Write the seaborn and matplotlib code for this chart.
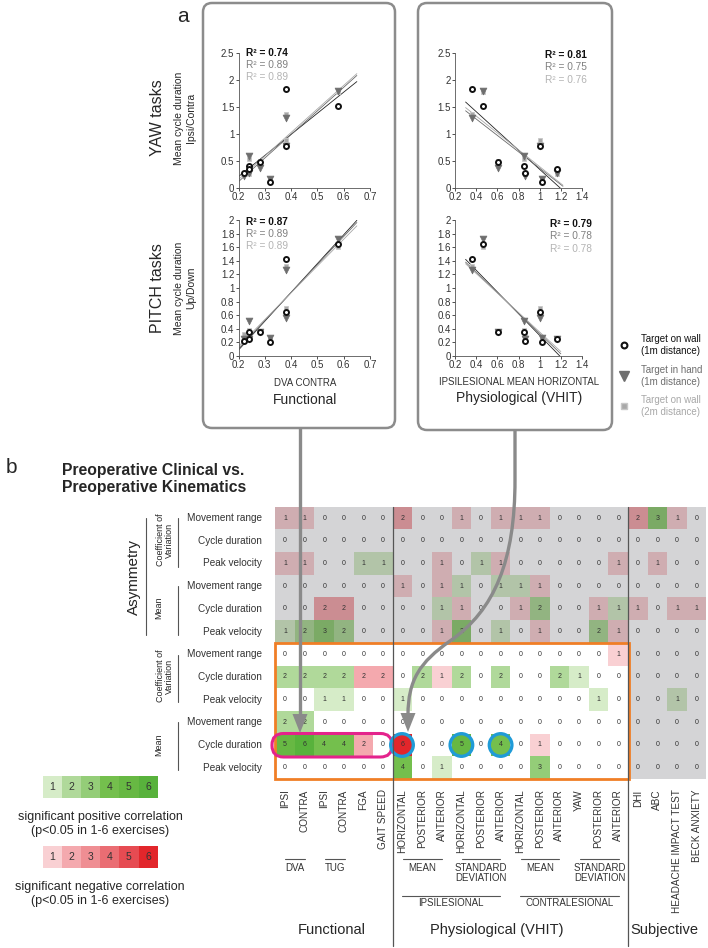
import numpy as np
import pandas as pd
import matplotlib
matplotlib.use("Agg")
import matplotlib.pyplot as plt
import seaborn as sns
from matplotlib.colors import ListedColormap, to_rgb
from matplotlib.patches import FancyBboxPatch, Rectangle, Circle, PathPatch, Polygon
from matplotlib.path import Path
from matplotlib.ticker import FuncFormatter

# ---------------- panel a: 8 patients ----------------
dva_contra = [0.38, 0.58, 0.28, 0.24, 0.22, 0.38, 0.32, 0.24]
ipsi_mean_horizontal = [0.36, 0.46, 0.61, 0.85, 0.86, 1.00, 1.02, 1.16]

yaw_wall_1m = [1.84, 1.52, 0.48, 0.42, 0.29, 0.78, 0.12, 0.35]
yaw_hand_1m = [1.30, 1.80, 0.38, 0.60, 0.22, 0.78, 0.17, 0.28]
yaw_wall_2m = [1.38, 1.78, 0.50, 0.55, 0.27, 0.90, 0.18, 0.27]

pitch_wall_1m = [1.42, 1.65, 0.36, 0.36, 0.22, 0.65, 0.20, 0.25]
pitch_hand_1m = [1.26, 1.72, 0.35, 0.51, 0.25, 0.56, 0.27, 0.25]
pitch_wall_2m = [1.33, 1.60, 0.37, 0.38, 0.32, 0.70, 0.27, 0.26]

r2_yaw_functional = ["0.74", "0.89", "0.89"]
r2_pitch_functional = ["0.87", "0.89", "0.89"]
r2_yaw_vhit = ["0.81", "0.75", "0.76"]
r2_pitch_vhit = ["0.79", "0.78", "0.78"]

conditions = ["Target on wall\n(1m distance)",
              "Target in hand\n(1m distance)",
              "Target on wall\n(2m distance)"]

# ---------------- panel b ----------------
kinematic_rows = ["Movement range", "Cycle duration", "Peak velocity"] * 4
clinical_cols = ["IPSI", "CONTRA", "IPSI", "CONTRA", "FGA", "GAIT SPEED",
                 "HORIZONTAL", "POSTERIOR", "ANTERIOR",
                 "HORIZONTAL", "POSTERIOR", "ANTERIOR",
                 "HORIZONTAL", "POSTERIOR", "ANTERIOR",
                 "YAW", "POSTERIOR", "ANTERIOR",
                 "DHI", "ABC", "HEADACHE IMPACT TEST", "BECK ANXIETY"]

# number of exercises with a significant correlation, sign = direction
corr_counts = np.array([
    [-1, -1, 0, 0, 0, 0, -2, 0, 0, -1, 0, -1, -1, -1, 0, 0, 0, 0, -2, 3, -1, 0],
    [0, 0, 0, 0, 0, 0, 0, 0, 0, 0, 0, 0, 0, 0, 0, 0, 0, 0, 0, 0, 0, 0],
    [-1, -1, 0, 0, 1, 1, 0, 0, -1, 0, 1, -1, 0, 0, 0, 0, 0, -1, 0, -1, 0, 0],
    [0, 0, 0, 0, 0, 0, -1, 0, -1, 1, 0, 1, 1, -1, 0, 0, 0, 0, 0, 0, 0, 0],
    [0, 0, -2, -2, 0, 0, 0, 0, 1, -1, 0, 0, -1, 2, 0, 0, -1, 1, -1, 0, -1, -1],
    [1, 2, 3, 2, 0, 0, 0, 0, -1, 3, 0, 1, 0, -1, 0, 0, 2, -1, 0, 0, 0, 0],
    [0, 0, 0, 0, 0, 0, 0, 0, 0, 0, 0, 0, 0, 0, 0, 0, 0, -1, 0, 0, 0, 0],
    [2, 2, 2, 2, -2, -2, 0, 2, -1, 2, 0, 2, 0, 0, 2, 1, 0, 0, 0, 0, 0, 0],
    [0, 0, 1, 1, 0, 0, 1, 0, 0, 0, 0, 0, 0, 0, 0, 0, 1, 0, 0, 0, 1, 0],
    [2, 2, 0, 0, 0, 0, 0, 0, 0, 0, 0, 0, 0, 0, 0, 0, 0, 0, 0, 0, 0, 0],
    [5, 6, 4, 4, -2, 0, -6, 0, 0, 5, 0, 4, 0, -1, 0, 0, 0, 0, 0, 0, 0, 0],
    [0, 0, 0, 0, 0, 0, 4, 0, 1, 0, 0, 0, 0, 3, 0, 0, 0, 0, 0, 0, 0, 0],
])
legend_levels = [1, 2, 3, 4, 5, 6]

# ---------------- style ----------------
sns.set_theme(style="white")
plt.rcParams["font.family"] = ["Liberation Sans", "DejaVu Sans"]

W, H = 708, 948
fig = plt.figure(figsize=(W / 100, H / 100), dpi=100)

pos_colors = ["#d6ecc8", "#b0d99a", "#94cd78", "#74bf4d", "#67b843", "#58b23c"]
neg_colors = ["#f9d0d3", "#f4a9ae", "#ef8e93", "#ea6d73", "#e64b52", "#e2262b"]
all_colors = neg_colors[::-1] + ["#ffffff"] + pos_colors
grey = np.array(to_rgb("#d4d4d6"))
cmap_white = ListedColormap(all_colors)
cmap_grey = ListedColormap([tuple(np.array(to_rgb(c)) * grey) for c in all_colors])


def px_axes(x0, y0, x1, y1, **kw):
    return fig.add_axes([x0 / W, 1 - y1 / H, (x1 - x0) / W, (y1 - y0) / H], **kw)


def scatter_panel(box, x, ys, xlim, xticks, ylim, yticks, fit_range):
    ax = px_axes(*box)
    styles = [
        dict(marker="o", s=13, color="white", edgecolor="#111111", linewidth=1.4),
        dict(marker="v", s=24, color="#6e6e6e", edgecolor="#6e6e6e", linewidth=0.5),
        dict(marker="s", s=12, color="#a8a8a8", edgecolor="#c8c8c8", linewidth=0.6),
    ]
    line_cols = ["#222222", "#6a6a6a", "#a8a8a8"]
    for i in [2, 1, 0]:
        sns.scatterplot(x=x, y=ys[i], ax=ax, zorder=3 + (2 - i), **styles[i])
    xx = np.linspace(fit_range[0], fit_range[1], 20)
    for i in range(3):
        k, b = np.polyfit(x, ys[i], 1)
        ax.plot(xx, k * xx + b, color=line_cols[i], lw=0.6, zorder=2)
    ax.set_xlim(*xlim)
    ax.set_ylim(*ylim)
    ax.set_xticks(xticks)
    ax.set_yticks(yticks)
    fmt = FuncFormatter(lambda v, p: f"{v:g}")
    ax.xaxis.set_major_formatter(fmt)
    ax.yaxis.set_major_formatter(fmt)
    for s in ["top", "right"]:
        ax.spines[s].set_visible(False)
    for s in ["left", "bottom"]:
        ax.spines[s].set_color("#555555")
        ax.spines[s].set_linewidth(0.6)
    ax.tick_params(labelsize=7, colors="#333333", length=2, width=0.6, pad=1,
                   bottom=True, left=True)
    ax.patch.set_alpha(0)
    return ax


fx = [0.2, 0.3, 0.4, 0.5, 0.6, 0.7]
vx = [0.2, 0.4, 0.6, 0.8, 1.0, 1.2, 1.4]
scatter_panel((238.5, 53.3, 370, 188.3), dva_contra,
              [yaw_wall_1m, yaw_hand_1m, yaw_wall_2m],
              (0.2, 0.7), fx, (0, 2.5), [0, 0.5, 1, 1.5, 2, 2.5], (0.2, 0.65))
scatter_panel((238.5, 220, 370, 356), dva_contra,
              [pitch_wall_1m, pitch_hand_1m, pitch_wall_2m],
              (0.2, 0.7), fx, (0, 2), np.arange(0, 2.01, 0.2), (0.2, 0.65))
scatter_panel((455, 53.3, 582, 188.3), ipsi_mean_horizontal,
              [yaw_wall_1m, yaw_hand_1m, yaw_wall_2m],
              (0.2, 1.4), vx, (0, 2.5), [0, 0.5, 1, 1.5, 2, 2.5], (0.3, 1.22))
scatter_panel((455, 220, 582, 356), ipsi_mean_horizontal,
              [pitch_wall_1m, pitch_hand_1m, pitch_wall_2m],
              (0.2, 1.4), vx, (0, 2), np.arange(0, 2.01, 0.2), (0.3, 1.2))

# ---------------- heatmap ----------------
ax_h = px_axes(275.2, 506.7, 706.4, 779)
n_rows, n_cols = corr_counts.shape
grey_mask = np.zeros_like(corr_counts, dtype=bool)
grey_mask[:6, :] = True
grey_mask[:, 18:] = True
annot = np.abs(corr_counts)
hm_kw = dict(vmin=-6.5, vmax=6.5, annot=annot, fmt="d", cbar=False, ax=ax_h,
             xticklabels=clinical_cols, yticklabels=kinematic_rows,
             annot_kws={"size": 5, "color": "#333333"})
sns.heatmap(corr_counts, mask=grey_mask, cmap=cmap_white, **hm_kw)
sns.heatmap(corr_counts, mask=~grey_mask, cmap=cmap_grey, **hm_kw)
ax_h.tick_params(axis="y", length=0, pad=9.5, labelsize=7.2, labelcolor="#333333")
ax_h.tick_params(axis="x", length=0, pad=7.5, labelsize=7.2, labelcolor="#333333")
plt.setp(ax_h.get_yticklabels(), rotation=0, ha="right")
plt.setp(ax_h.get_xticklabels(), rotation=90, va="top", ha="center")

# legends of colour scale (small heatmaps)
for y0, cols, vals in [(776, pos_colors, legend_levels),
                       (846, neg_colors, legend_levels)]:
    ax_l = px_axes(42.7, y0, 157.7, y0 + 22)
    sns.heatmap(np.array([vals]), cmap=ListedColormap(cols), vmin=0.5, vmax=6.5,
                annot=True, fmt="d", cbar=False, ax=ax_l, xticklabels=False,
                yticklabels=False, annot_kws={"size": 7.5, "color": "#333333"})

# ---------------- overlay (pixel coordinates) ----------------
ov = fig.add_axes([0, 0, 1, 1], zorder=10)
ov.set_xlim(0, W)
ov.set_ylim(H, 0)
ov.axis("off")

box_col = "#8c8c8c"
for (x0, y0, x1, y1) in [(203, 3, 395, 428), (418, 3, 612, 430)]:
    ov.add_patch(FancyBboxPatch((x0, y0), x1 - x0, y1 - y0,
                                boxstyle="round,pad=0,rounding_size=9",
                                fc="none", ec=box_col, lw=1.8))

ov.text(183, 16, "a", fontsize=15, ha="center", va="center")
ov.text(11, 467, "b", fontsize=15, ha="center", va="center")

# y labels of panel a
for yc, task, unit in [(118, "YAW tasks", "Ipsi/Contra"), (288, "PITCH tasks", "Up/Down")]:
    ov.text(158, yc, task, fontsize=11.5, rotation=90, ha="center", va="center")
    ov.text(185, yc, "Mean cycle duration\n" + unit, fontsize=7.5, rotation=90,
            ha="center", va="center", linespacing=1.3)

# R² texts
r2_cols = ["#111111", "#808080", "#b4b4b4"]
for (x0, y0), vals in [((246, 52.5), r2_yaw_functional), ((246, 221.5), r2_pitch_functional),
                       ((545, 55), r2_yaw_vhit), ((550, 224), r2_pitch_vhit)]:
    for i, v in enumerate(vals):
        ov.text(x0, y0 + i * 12.3, f"R² = {v}", fontsize=7.3, color=r2_cols[i],
                fontweight="bold" if i == 0 else "normal", ha="left", va="center")

ov.text(305, 383, "DVA CONTRA", fontsize=7, ha="center", va="center", color="#333333")
ov.text(305, 400, "Functional", fontsize=10, ha="center", va="center")
ov.text(519, 382, "IPSILESIONAL MEAN HORIZONTAL", fontsize=7, ha="center", va="center",
        color="#333333")
ov.text(519, 398, "Physiological (VHIT)", fontsize=10, ha="center", va="center")

# marker legend
mk = [dict(marker="o", ms=4.2, mfc="white", mec="#111111", mew=1.5),
      dict(marker="v", ms=6.5, mfc="#6e6e6e", mec="#6e6e6e"),
      dict(marker="s", ms=4, mfc="#a8a8a8", mec="#c8c8c8")]
txt_cols = ["#111111", "#6e6e6e", "#a8a8a8"]
for i, (yc, lab) in enumerate(zip([345, 376, 406], conditions)):
    ov.plot([624], [yc], linestyle="none", **mk[i])
    ov.text(641, yc, lab, fontsize=7, color=txt_cols[i], ha="left", va="center",
            linespacing=1.25)

# title of panel b
ov.text(62, 479, "Preoperative Clinical vs.\nPreoperative Kinematics", fontsize=11.3,
        fontweight="bold", ha="left", va="center", linespacing=1.15)

# row groups
line_col = "#555555"
ov.text(134, 577, "Asymmetry", fontsize=11, rotation=90, ha="center", va="center")
ov.plot([145.7, 145.7], [518, 635], color=line_col, lw=0.8)
for yc, y0, y1 in [(540, 518, 567), (676, 655, 702)]:
    ov.text(165, yc, "Coefficient of\nVariation", fontsize=6.5, rotation=90,
            ha="center", va="center", linespacing=1.1)
    ov.plot([177.5, 177.5], [y0, y1], color=line_col, lw=0.8)
for yc, y0, y1 in [(608, 586, 635), (745, 722, 770)]:
    ov.text(159, yc, "Mean", fontsize=6.5, rotation=90, ha="center", va="center")
    ov.plot([177.5, 177.5], [y0, y1], color=line_col, lw=0.8)

# column groups
sub_groups = [(285, 304.5, "DVA"), (325, 345, "TUG"), (402.7, 441.7, "MEAN"),
              (461.7, 500, "STANDARD\nDEVIATION"), (521, 559.3, "MEAN"),
              (580, 619, "STANDARD\nDEVIATION")]
for x0, x1, lab in sub_groups:
    ov.plot([x0, x1], [859, 859], color=line_col, lw=0.8)
    ov.text((x0 + x1) / 2, 863, lab, fontsize=7, ha="center", va="top",
            color="#333333", linespacing=1.05)
for x0, x1, lab in [(402, 500, "IPSILESIONAL"), (520, 619, "CONTRALESIONAL")]:
    ov.plot([x0, x1], [895.5, 895.5], color=line_col, lw=0.8)
    ov.text((x0 + x1) / 2, 898.5, lab, fontsize=7, ha="center", va="top", color="#333333")
for xc, lab in [(332, "Functional"), (497, "Physiological (VHIT)"), (664, "Subjective")]:
    ov.text(xc, 930, lab, fontsize=10.5, ha="center", va="center")
for xv in [392.8, 628.4]:
    ov.plot([xv, xv], [506.7, 946], color="#555555", lw=0.9)

# legend captions
for yc, lab in [(817, "significant positive correlation\n(p<0.05 in 1-6 exercises)"),
                (887, "significant negative correlation\n(p<0.05 in 1-6 exercises)")]:
    ov.text(100, yc + 7, lab, fontsize=9, ha="center", va="center", linespacing=1.15)

# highlight boxes
ov.add_patch(Rectangle((274.5, 642.8), 354, 136.5, fc="none", ec="#f07e26", lw=2))
ov.add_patch(FancyBboxPatch((272, 733.5), 120, 23.5, boxstyle="round,pad=0,rounding_size=11.5",
                            fc="none", ec="#e4238c", lw=2.2))
for xc in [402.0, 461.4, 500.6]:
    ov.add_patch(Circle((xc, 745), 11.3, fc="none", ec="#1f9bd7", lw=2.4))

# arrows from panel a to the heat map
arrow_col = "#8a8a8a"
ov.plot([300, 300], [428, 716], color=arrow_col, lw=2.4, solid_capstyle="butt")
ov.add_patch(Polygon([(292.5, 714), (307.5, 714), (300, 733)], closed=True,
                     fc=arrow_col, ec="none"))
verts = [(515, 430), (515, 480), (515, 560), (495, 610), (450, 641),
         (420, 662), (408, 680), (408, 715)]
codes = [Path.MOVETO, Path.LINETO, Path.CURVE4, Path.CURVE4, Path.CURVE4,
         Path.CURVE4, Path.CURVE4, Path.CURVE4]
ov.add_patch(PathPatch(Path(verts, codes), fc="none", ec=arrow_col, lw=2.4))
ov.add_patch(Polygon([(400.5, 713), (415.5, 713), (408, 732)], closed=True,
                     fc=arrow_col, ec="none"))

fig.savefig("out.png", dpi=100)
